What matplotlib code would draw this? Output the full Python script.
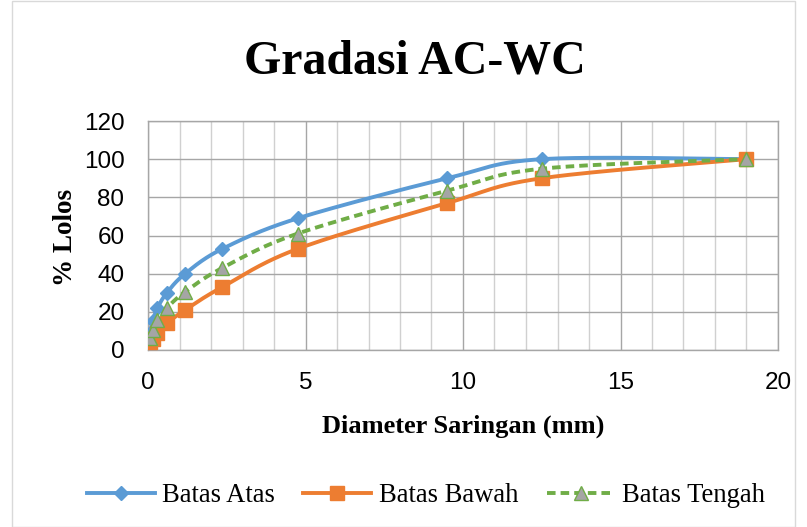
import numpy as np
import matplotlib
matplotlib.use("Agg")
import matplotlib.pyplot as plt
from matplotlib.lines import Line2D

sieve = [0.075, 0.15, 0.3, 0.6, 1.18, 2.36, 4.75, 9.5, 12.5, 19]
batas_atas = [9, 15, 22, 30, 40, 53, 69, 90, 100, 100]
batas_bawah = [4, 6, 9, 14, 21, 33, 53, 77, 90, 100]
batas_tengah = [6.5, 10.5, 15.5, 22, 30.5, 43, 61, 83.5, 95, 100]

x_ticks = [0, 5, 10, 15, 20]
y_ticks = [0, 20, 40, 60, 80, 100, 120]

def smooth(x, y, sx=20.0, sy=120.0, n=40):
    # Excel-like smoothed line: cubic Bezier with Catmull-Rom control points
    P = np.column_stack([np.asarray(x, float) / sx, np.asarray(y, float) / sy])
    out = []
    for i in range(len(P) - 1):
        p0 = P[i - 1] if i > 0 else P[i]
        p1 = P[i]
        p2 = P[i + 1]
        p3 = P[i + 2] if i + 2 < len(P) else P[i + 1]
        c1 = p1 + (p2 - p0) / 6.0
        c2 = p2 - (p3 - p1) / 6.0
        t = np.linspace(0, 1, n)[:, None]
        seg = ((1 - t) ** 3) * p1 + 3 * ((1 - t) ** 2) * t * c1 + 3 * (1 - t) * t ** 2 * c2 + t ** 3 * p2
        out.append(seg if i == 0 else seg[1:])
    Q = np.vstack(out)
    return Q[:, 0] * sx, Q[:, 1] * sy

fig = plt.figure(figsize=(8.07, 5.27), dpi=100)
ax = fig.add_axes([148 / 807, 1 - 350 / 527, (778 - 148) / 807, (350 - 121) / 527])

blue = "#5B9BD5"
orange = "#ED7D31"
green = "#70AD47"
gray = "#A5A5A5"

sx, sy = smooth(sieve, batas_atas)
ax.plot(sx, sy, color=blue, lw=2.8, zorder=3, solid_capstyle="round")
ax.plot(sieve, batas_atas, ls="none", marker="D", ms=7, color=blue, zorder=4)

sx, sy = smooth(sieve, batas_bawah)
ax.plot(sx, sy, color=orange, lw=2.8, zorder=3, solid_capstyle="round")
ax.plot(sieve, batas_bawah, ls="none", marker="s", ms=10, color=orange, zorder=4)

sx, sy = smooth(sieve, batas_tengah)
ax.plot(sx, sy, color=green, lw=2.8, ls=(0, (2.2, 1.3)), zorder=3)
ax.plot(sieve, batas_tengah, ls="none", marker="^", ms=10.5, markerfacecolor=gray,
        markeredgecolor=green, markeredgewidth=1.0, zorder=5)

ax.set_xlim(0, 20)
ax.set_ylim(0, 120)
ax.set_xticks(x_ticks)
ax.set_yticks(y_ticks)
ax.set_xticks(np.arange(0, 21, 1), minor=True)
ax.grid(True, which="major", color="#A6A6A6", lw=1.0, zorder=0)
ax.grid(True, which="minor", axis="x", color="#D0D0D0", lw=1.0, zorder=0)
for s in ax.spines.values():
    s.set_color("#A6A6A6")
    s.set_linewidth(1.0)
ax.tick_params(which="both", length=0, labelsize=17.5)
ax.tick_params(axis="x", pad=16)
ax.tick_params(axis="y", pad=17)
for lab in ax.get_xticklabels() + ax.get_yticklabels():
    lab.set_fontfamily("Liberation Sans")

serif = "Liberation Serif"
fig.text(415 / 807, 1 - 62 / 527, "Gradasi AC-WC", ha="center", va="center",
         fontsize=34.5, fontweight="bold", fontfamily=serif)
fig.text(463 / 807, 1 - 426 / 527, "Diameter Saringan (mm)", ha="center", va="center",
         fontsize=19, fontweight="bold", fontfamily=serif)
fig.text(66 / 807, 1 - 237 / 527, "% Lolos", ha="center", va="center", rotation=90,
         fontsize=19.5, fontweight="bold", fontfamily=serif)

handles = [
    Line2D([], [], color=blue, lw=2.8, marker="D", ms=7),
    Line2D([], [], color=orange, lw=2.8, marker="s", ms=10),
    Line2D([], [], color=green, lw=2.8, ls=(0, (2.2, 1.3)), marker="^", ms=10.5,
           markerfacecolor=gray, markeredgecolor=green),
]
fig.legend(handles, ["Batas Atas", "Batas Bawah", "Batas Tengah"], loc="center",
           bbox_to_anchor=(426 / 807, 1 - 496 / 527), ncol=3, frameon=False,
           prop={"family": serif, "size": 19.2}, handlelength=2.55, columnspacing=1.07,
           handletextpad=0.28)

border = plt.Rectangle((12 / 807, 0.5 / 527), (795 - 12) / 807, 1 - 1.5 / 527,
                       transform=fig.transFigure, fill=False, edgecolor="#D9D9D9", lw=1.0)
fig.add_artist(border)

fig.savefig("out.png", dpi=100)
